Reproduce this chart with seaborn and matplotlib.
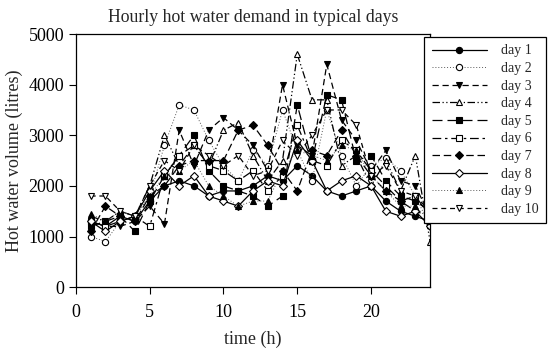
import pandas as pd
import matplotlib
matplotlib.use("Agg")
import matplotlib.pyplot as plt
import seaborn as sns

# hourly hot water demand (litres)
hours = list(range(1, 25))
day1 = [1300, 1200, 1400, 1300, 1700, 2000, 2100, 2000, 1800, 1900, 1900, 2000,
        2200, 2100, 2400, 2200, 1900, 1800, 1900, 2000, 1700, 1500, 1400, 1300]
day2 = [1000, 900, 1300, 1400, 1800, 2800, 3600, 3500, 2900, 2400, 2100, 2700,
        2400, 3500, 2700, 2100, 3500, 2600, 2000, 2400, 2550, 2300, 1800, 1200]
day3 = [1300, 1200, 1200, 1300, 1600, 1250, 3100, 2400, 3100, 3350, 3100, 2800,
        2300, 4000, 2800, 2600, 4400, 3300, 2900, 2300, 2700, 2100, 2000, 1400]
day4 = [1400, 1300, 1500, 1400, 2000, 3000, 2400, 2800, 2400, 3100, 3250, 2600,
        2100, 2500, 4600, 3700, 3700, 2400, 2600, 2000, 2500, 1900, 2600, 900]
day5 = [1200, 1300, 1400, 1100, 1700, 2200, 2600, 3000, 2300, 2000, 1900, 1800,
        1600, 1800, 3600, 2500, 3800, 3700, 2500, 2600, 2100, 1800, 1700, 1500]
day6 = [1300, 1200, 1300, 1400, 1200, 2200, 2600, 2800, 2400, 2300, 2100, 2300,
        1900, 2200, 3200, 2500, 2400, 2900, 2700, 2300, 2000, 1700, 1800, 1400]
day7 = [1100, 1600, 1400, 1300, 1800, 2000, 2400, 2500, 2500, 2500, 3100, 3200,
        2800, 2300, 1900, 2700, 2600, 3100, 2600, 2200, 1900, 1700, 1500, 1400]
day8 = [1300, 1100, 1300, 1400, 1900, 2300, 2000, 2200, 1800, 1700, 1600, 1900,
        2100, 2000, 2900, 2500, 1900, 2100, 2200, 2000, 1500, 1400, 1500, 1200]
day9 = [1450, 1300, 1500, 1400, 1800, 2200, 2300, 2500, 2000, 1800, 1600, 1700,
        1700, 2300, 2700, 2600, 2500, 2800, 2700, 2200, 1900, 1600, 1600, 1300]
day10 = [1800, 1800, 1500, 1400, 2000, 2500, 2300, 2800, 2600, 2400, 2600, 2200,
         2300, 2900, 2600, 3000, 3500, 3500, 3200, 2200, 2400, 1900, 1800, 1500]

labels = ["day 1", "day 2", "day 3", "day 4", "day 5",
          "day 6", "day 7", "day 8", "day 9", "day 10"]
series = [day1, day2, day3, day4, day5, day6, day7, day8, day9, day10]

# marker, face colour, line style for each day
styles = [
    ("o", "black", "-"),
    ("o", "white", (0, (1, 2))),
    ("v", "black", (0, (5, 3))),
    ("^", "white", (0, (6, 2, 1, 2, 1, 2))),
    ("s", "black", (0, (8, 4))),
    ("s", "white", (0, (7, 3, 2, 3))),
    ("D", "black", (0, (6, 3))),
    ("D", "white", "-"),
    ("^", "black", (0, (1, 2))),
    ("v", "white", (0, (4, 3))),
]

sns.set_style("ticks")
plt.rcParams["font.family"] = ["Liberation Serif", "DejaVu Serif"]

fig = plt.figure(figsize=(5.5, 3.51), dpi=100)
ax = fig.add_axes([0.138, 0.182, 0.644, 0.721])

for lab, vals, (mk, fc, ls) in zip(labels, series, styles):
    df = pd.DataFrame({"hour": hours, "volume": vals})
    dotted = ls == (0, (1, 2))
    sns.lineplot(data=df, x="hour", y="volume", ax=ax,
                 color="0.35" if dotted else "black",
                 linestyle=ls, linewidth=0.7 if dotted else 0.9,
                 marker=mk, markersize=4.5, markerfacecolor=fc,
                 markeredgecolor="black", markeredgewidth=0.8, label=lab)

ax.set_xlim(0, 24)
ax.set_ylim(0, 5000)
ax.set_xticks([0, 5, 10, 15, 20])
ax.set_yticks([0, 1000, 2000, 3000, 4000, 5000])
ax.tick_params(direction="out", length=5, width=0.8, labelsize=13, colors="black")
ax.tick_params(axis="x", pad=7)
for s in ax.spines.values():
    s.set_visible(True)
    s.set_color("black")
    s.set_linewidth(0.9)

ax.set_xlabel("time (h)", fontsize=13, labelpad=7)
ax.set_ylabel("Hot water volume (litres)", fontsize=13)
ax.set_title("Hourly hot water demand in typical days", fontsize=12.8, pad=9)

leg = ax.legend(loc="upper left", bbox_to_anchor=(0.771, 0.895),
                bbox_transform=fig.transFigure, fontsize=10, frameon=True,
                fancybox=False, edgecolor="black", framealpha=1,
                handlelength=4.0, handletextpad=1.0, labelspacing=0.33,
                borderpad=0.55, borderaxespad=0)
leg.get_frame().set_linewidth(0.9)

fig.savefig("out.png", dpi=100)
